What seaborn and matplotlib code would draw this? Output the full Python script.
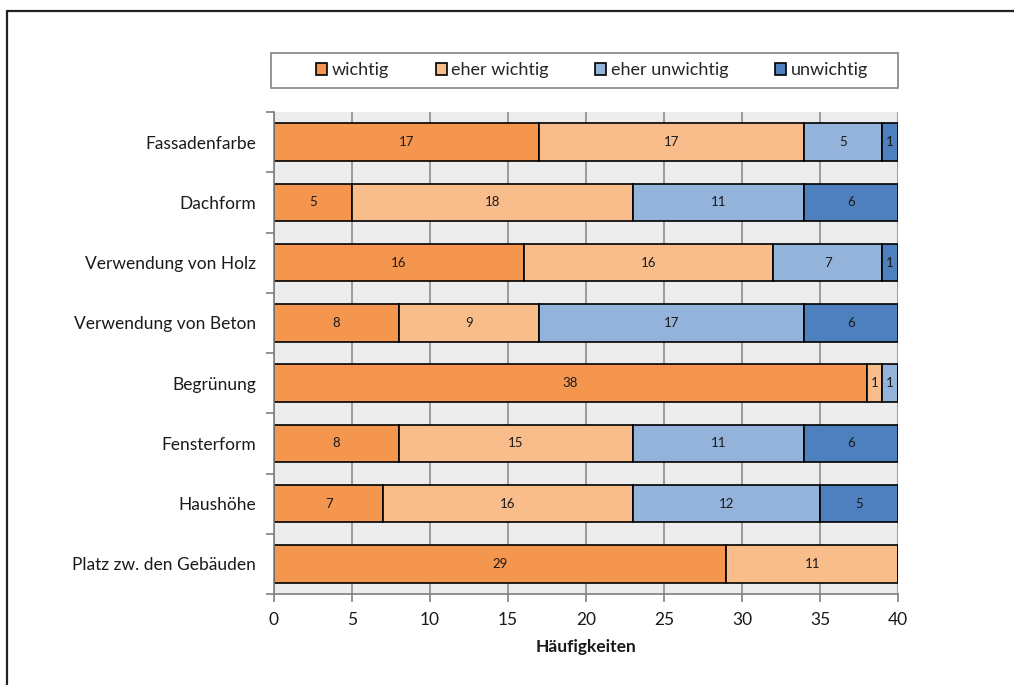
import matplotlib
matplotlib.use("Agg")
import matplotlib.pyplot as plt
from matplotlib.lines import Line2D
from matplotlib.patches import Rectangle, Patch
from matplotlib.ticker import FixedLocator
import numpy as np
import pandas as pd
import seaborn as sns

# Ratings per design aspect (counts of answers)
categories = [
    "Fassadenfarbe",
    "Dachform",
    "Verwendung von Holz",
    "Verwendung von Beton",
    "Begrünung",
    "Fensterform",
    "Haushöhe",
    "Platz zw. den Gebäuden",
]
levels = ["wichtig", "eher wichtig", "eher unwichtig", "unwichtig"]
wichtig = [17, 5, 16, 8, 38, 8, 7, 29]
eher_wichtig = [17, 18, 16, 9, 1, 15, 16, 11]
eher_unwichtig = [5, 11, 7, 17, 1, 11, 12, 0]
unwichtig = [1, 6, 1, 6, 0, 6, 5, 0]
x_ticks = [0, 5, 10, 15, 20, 25, 30, 35, 40]
x_label = "Häufigkeiten"

colors = ["#F5964F", "#F9BD8C", "#93B3DA", "#4E80BF"]

sns.set_style("white")
plt.rcParams["font.family"] = ["Lato", "DejaVu Sans"]

# Long table with the running offset of each stacked segment
series = [wichtig, eher_wichtig, eher_unwichtig, unwichtig]
rows = []
for lvl, vals in zip(levels, series):
    for cat, v in zip(categories, vals):
        rows.append({"category": cat, "level": lvl, "value": v})
df = pd.DataFrame(rows)
df["category"] = pd.Categorical(df["category"], categories=categories, ordered=True)
df["level"] = pd.Categorical(df["level"], categories=levels, ordered=True)
df = df.sort_values(["level", "category"]).reset_index(drop=True)
df["left"] = df.groupby("category", observed=True)["value"].cumsum() - df["value"]

fig = plt.figure(figsize=(10.14, 6.85), dpi=100)
ax = fig.add_axes([0.2702, 0.1328, 0.6154, 0.7037])
ax.set_facecolor("#EDEDED")

for lvl, col in zip(levels, colors):
    sub = df[df["level"] == lvl]
    sns.barplot(
        data=sub, x="value", y="category", order=categories,
        color=col, saturation=1, width=0.62, errorbar=None,
        left=sub["left"].to_numpy(), edgecolor="black", linewidth=1.2,
        ax=ax, legend=False,
    )
    cont = ax.containers[-1]
    labels = [str(v) if v > 0 else "" for v in sub["value"]]
    ax.bar_label(cont, labels=labels, label_type="center",
                 fontsize=9.5, color="#1A1A1A")

if ax.get_legend() is not None:
    ax.get_legend().remove()

ax.set_xlim(0, 40)
ax.set_ylim(len(categories) - 0.5, -0.5)
ax.xaxis.set_major_locator(FixedLocator(x_ticks))
ax.set_xticklabels([str(t) for t in x_ticks])
ax.grid(axis="x", color="#8E8E8E", linewidth=1.2)
ax.grid(axis="y", visible=False)
ax.set_axisbelow(True)

# Category boundaries as minor ticks on the y axis
ax.yaxis.set_minor_locator(FixedLocator(np.arange(-0.5, len(categories), 1.0)))
ax.tick_params(axis="y", which="major", length=0, pad=13, labelsize=12.5, colors="#1A1A1A")
ax.tick_params(axis="y", which="minor", length=6, width=1.2, color="#7F7F7F", left=True)
ax.tick_params(axis="x", which="major", length=6, width=1.2, color="#7F7F7F",
               bottom=True, pad=7, labelsize=12.5, labelcolor="#1A1A1A")

for side in ["top", "right"]:
    ax.spines[side].set_visible(False)
for side in ["left", "bottom"]:
    ax.spines[side].set_color("#7F7F7F")
    ax.spines[side].set_linewidth(1.2)

ax.set_ylabel("")
ax.set_xlabel(x_label, fontsize=12.5, fontweight="bold", labelpad=8, color="#1A1A1A")

# Legend inside its own box above the plot
box = Rectangle((271 / 1014, 1 - 88 / 685), 627 / 1014, 35 / 685,
                transform=fig.transFigure, facecolor="white",
                edgecolor="#8C8C8C", linewidth=1.3)
fig.patches.append(box)
handles = [Patch(facecolor=c, edgecolor="black", linewidth=1.2) for c in colors]
fig.legend(handles, levels, loc="center", bbox_to_anchor=(592 / 1014, 1 - 70.5 / 685),
           ncol=4, frameon=False, fontsize=13, handlelength=0.6, handleheight=0.6,
           handletextpad=0.25, columnspacing=2.6)

# Outer frame lines
fig.add_artist(Line2D([7 / 1014, 1.0], [1 - 11 / 685, 1 - 11 / 685],
                      transform=fig.transFigure, color="#222222", linewidth=1.6))
fig.add_artist(Line2D([7 / 1014, 7 / 1014], [0, 1 - 11 / 685],
                      transform=fig.transFigure, color="#222222", linewidth=1.6))

fig.savefig("out.png", dpi=100, facecolor="white")
